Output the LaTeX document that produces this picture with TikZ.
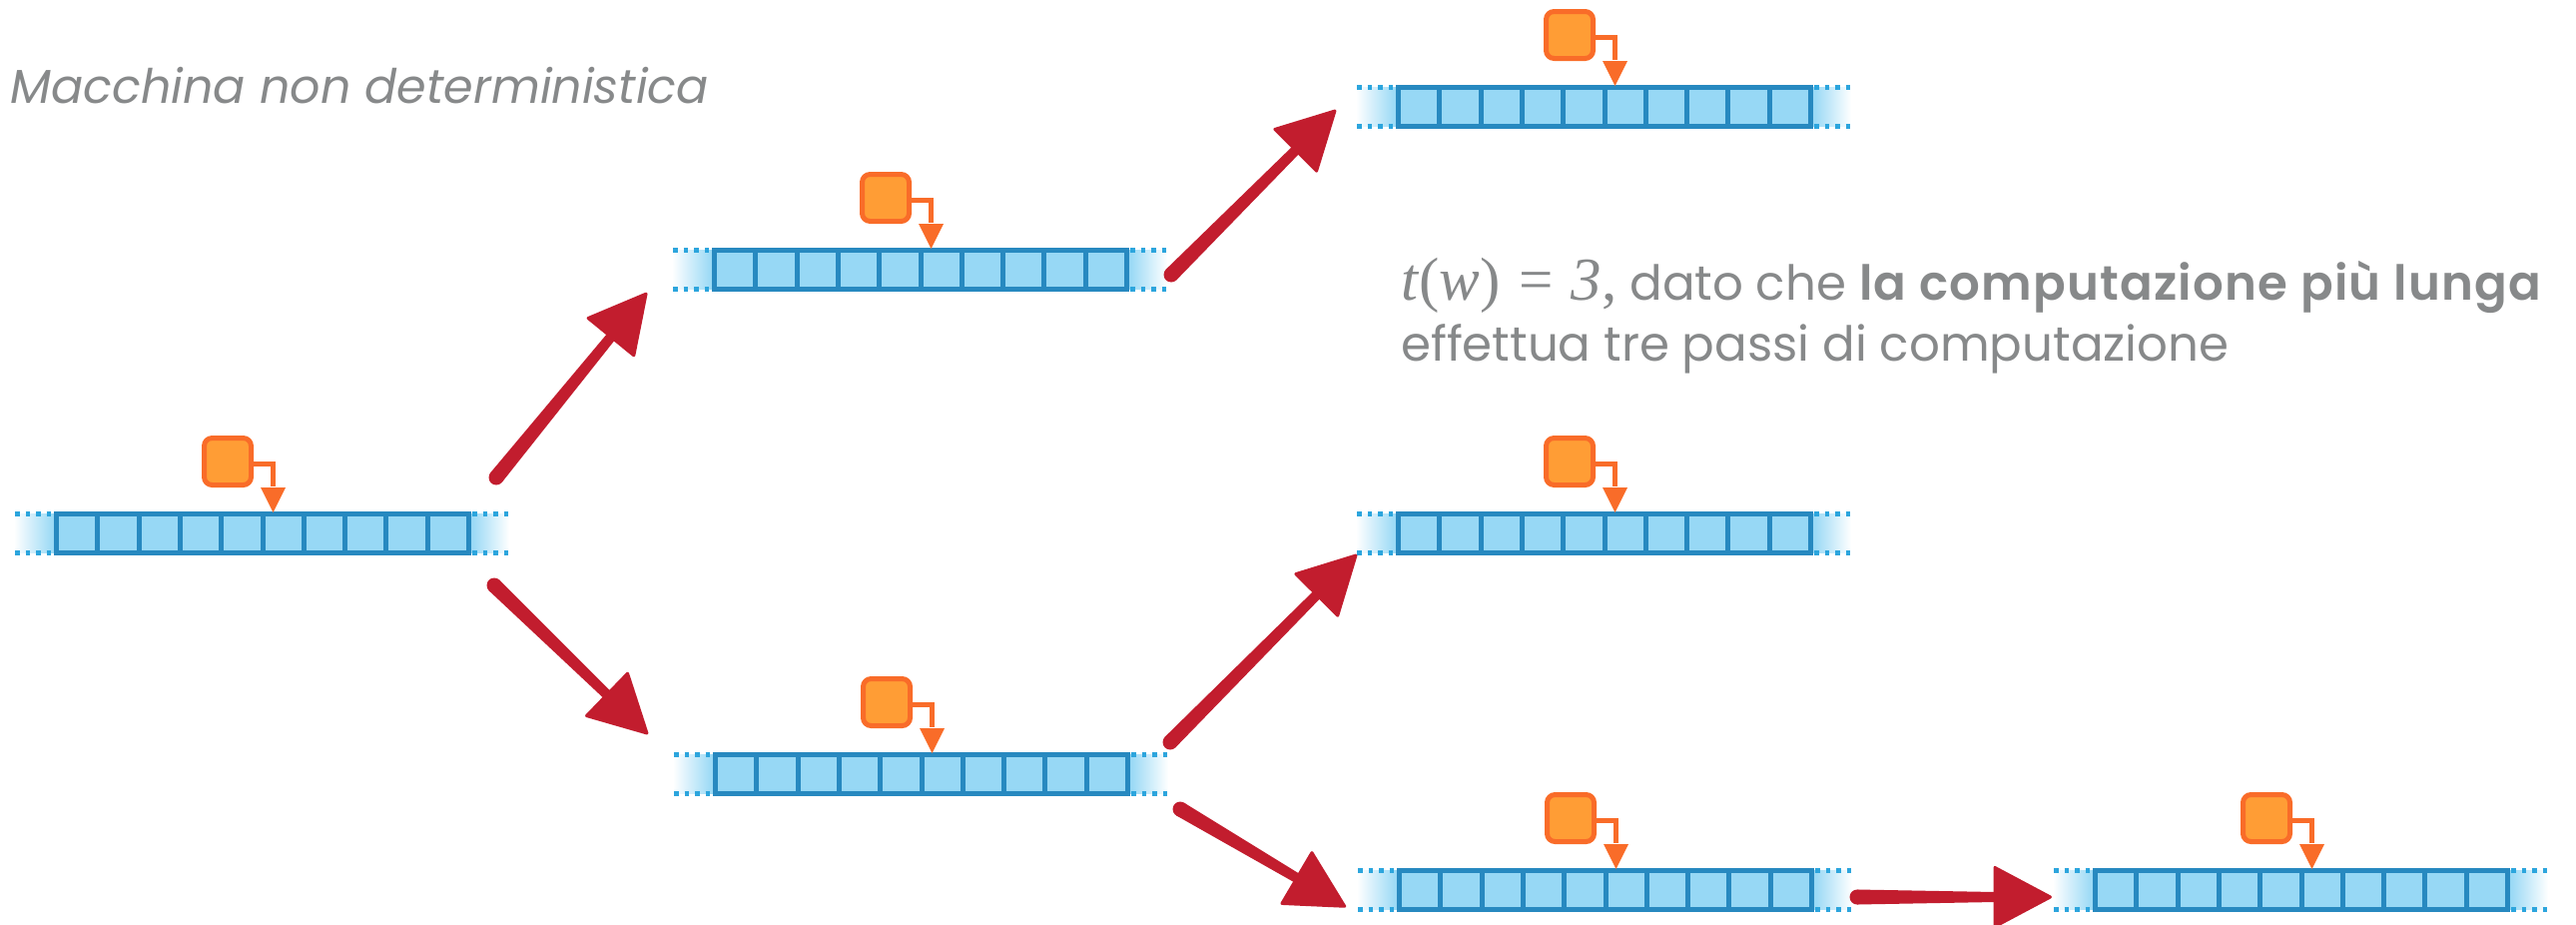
\documentclass[tikz,border=0pt]{standalone}
\usepackage{fontspec}
\setmainfont{Poppins}[BoldFont={Poppins SemiBold}]
\newfontfamily\serifmath{Liberation Serif}
\usetikzlibrary{calc}

\definecolor{tapeline}{HTML}{2789C0}
\definecolor{tapefill}{HTML}{97D8F5}
\definecolor{tapedot}{HTML}{2CA5DD}
\definecolor{headfill}{HTML}{FF9D35}
\definecolor{headline}{HTML}{F96C29}
\definecolor{brushred}{HTML}{C21D2E}
\definecolor{textgray}{HTML}{87898A}

\tikzset{
  tapedots/.style={draw=tapedot, line width=4.5pt, dash pattern=on 4.5pt off 6pt},
  tapecells/.style={draw=tapeline, fill=tapefill, line width=5pt,
    minimum width=413pt, minimum height=39pt, inner sep=0pt, outer sep=0pt},
  divider/.style={draw=tapeline, line width=5pt},
  headbox/.style={draw=headline, fill=headfill, line width=5pt,
    rounded corners=8pt, minimum size=47pt, inner sep=0pt},
  headlink/.style={draw=headline, line width=5pt},
  notetext/.style={anchor=base west, inner sep=0pt, text=textgray,
    font=\fontsize{48.3}{58}\selectfont},
  % a tape of ten cells with its read/write head; origin = top-left of the cells
  tape/.pic={
    \shade[left color=white, right color=tapefill] (-40,2.5) rectangle (0,41.5);
    \shade[left color=tapefill, right color=white] (418,2.5) rectangle (456,41.5);
    \draw[tapedots] (-39,2.5) -- (0,2.5);
    \draw[tapedots] (-39,41.5) -- (0,41.5);
    \draw[tapedots] (419,2.5) -- (456,2.5);
    \draw[tapedots] (419,41.5) -- (456,41.5);
    \node[tapecells] (-cells) at (209,22) {};
    \foreach \k in {1,...,9}
      \draw[divider] ({2.5+41.3*\k},2.5) -- ({2.5+41.3*\k},41.5);
    \node[headbox] (-head) at (174,-50) {};
    \draw[headlink] (200,-48) -- (219.5,-48) -- (219.5,-25);
    \fill[headline] (207,-24) -- (232,-24) -- (219.5,1) -- cycle;
  },
}

% brush-stroke arrow from coordinate #1 (tail centre) to coordinate #2 (tip)
\newcommand\brushArrow[2]{%
  \coordinate (#1-base) at ($(#2)!57pt!(#1)$);
  \fill[brushred] ($(#1)!7.5pt!90:(#2)$) -- ($(#1-base)!5pt!-90:(#1)$)
    -- ($(#1-base)!5pt!90:(#1)$) -- ($(#1)!7.5pt!-90:(#2)$) -- cycle;
  \fill[brushred] (#1) circle[radius=7.5pt];
  \filldraw[brushred, line width=3pt, line join=round]
    ($(#1-base)!29.5pt!90:(#2)$) -- ($(#2)!1.5pt!(#1)$)
    -- ($(#1-base)!29.5pt!-90:(#2)$) -- cycle;
}

\begin{document}
\begin{tikzpicture}[x=1pt, y=-1pt]
\useasboundingbox (0,0) rectangle (2580,926);

% configurations of the computation tree
\pic (t1) at (54,512) {tape};
\pic (t2) at (713,248) {tape};
\pic (t3) at (714,753) {tape};
\pic (t4) at (1398,85) {tape};
\pic (t5) at (1398,512) {tape};
\pic (t6) at (1399,869) {tape};
\pic (t7) at (2096,869) {tape};

% arrow end points
\coordinate (a1) at (497,478);   \coordinate (a1-tip) at (648,293);
\coordinate (a2) at (495,586);   \coordinate (a2-tip) at (649,735);
\coordinate (a3) at (1173,275);  \coordinate (a3-tip) at (1338,110);
\coordinate (a4) at (1172,743);  \coordinate (a4-tip) at (1359,555);
\coordinate (a5) at (1182,810);  \coordinate (a5-tip) at (1348,908);
\coordinate (a6) at (1860,898);  \coordinate (a6-tip) at (2055,898);

\brushArrow{a1}{a1-tip}
\brushArrow{a2}{a2-tip}
\brushArrow{a3}{a3-tip}
\brushArrow{a4}{a4-tip}
\brushArrow{a5}{a5-tip}
\brushArrow{a6}{a6-tip}

% labels
\node[anchor=base west, inner sep=0pt, text=textgray,
  font=\fontsize{47.6}{58}\selectfont\itshape] (title) at (10,103)
  {Macchina non deterministica};
\node[notetext] (note1) at (1403,300)
  {{\serifmath\fontsize{61}{70}\selectfont\itshape t\/\upshape(\itshape w\/\upshape)\hspace{0.3em}=\hspace{0.3em}\itshape 3\upshape,} dato che {\bfseries\addfontfeatures{LetterSpace=2.5}la computazione più lunga}};
\node[notetext] (note2) at (1403,361)
  {effettua tre passi di computazione};
\end{tikzpicture}
\end{document}
